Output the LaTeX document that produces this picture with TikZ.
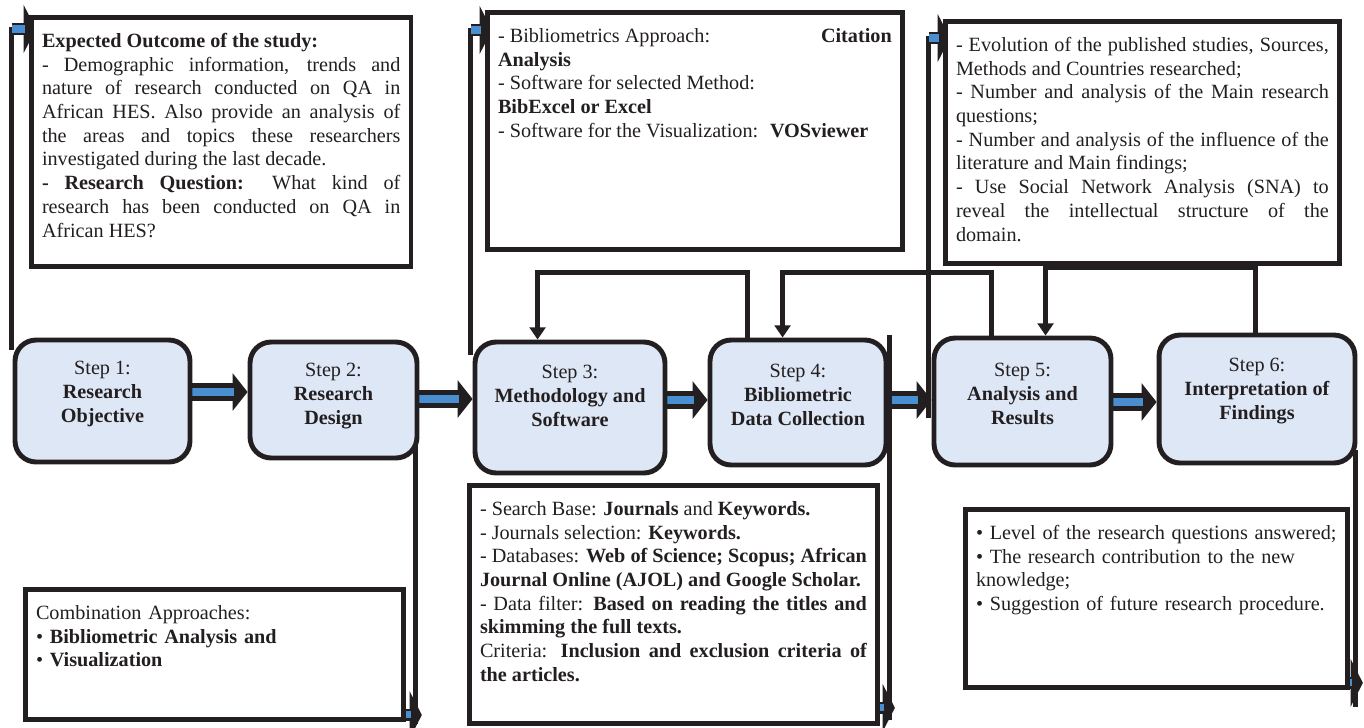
\documentclass[tikz,border=0pt]{standalone}
\usepackage{fontspec}
\setmainfont{Liberation Serif}
\usepackage{xcolor}
\usepackage{tikz}
\usetikzlibrary{arrows.meta,calc,backgrounds}
\definecolor{ink}{HTML}{231F20}
\definecolor{pipeblue}{HTML}{488ED1}
\definecolor{stepfill}{HTML}{DEE7F5}
\hyphenpenalty=10000
\exhyphenpenalty=10000
\tolerance=2000
\emergencystretch=1em
\tikzset{
  base_t/.style = {font=\fontsize{11.5}{13.5}\selectfont, text=ink},
  step_n/.style = {base_t, rectangle, rounded corners=12pt, draw=ink,
    line width=2.8pt, fill=stepfill},% step box
  step_t/.style = {base_t, align=center, inner sep=0pt},% step text
  note_b/.style = {base_t, rectangle, draw=ink, line width=2.8pt, fill=white,
    anchor=north west, inner xsep=6pt, inner ysep=9pt, text height=8pt,
    align=justify},% text box
  wire/.style = {draw=ink, line width=2.5pt},
  wire_a/.style = {wire, -{Triangle[length=7pt,width=9pt]}},
  pipe/.style = {draw=pipeblue, line width=4.5pt, shorten >=8pt,
    preaction={draw=ink, line width=10pt, shorten >=0pt,
      -{Triangle[length=8.5pt,width=21pt]}}},% blue arrow between steps
  pipe_s/.style = {draw=pipeblue, line width=4pt, shorten >=6pt,
    preaction={draw=ink, line width=7pt, shorten >=0pt,
      -{Triangle[length=7pt,width=27pt]}}}% blue end of side wires
}
\begin{document}
\begin{tikzpicture}[x=0.02cm, y=-0.02cm]
  \useasboundingbox (0,0) rectangle (1364,727);

  % steps
  \node[step_n, minimum width=3.5cm, minimum height=2.44cm,
    label={[step_t,yshift=4pt]center:Step 1:\\\textbf{Research}\\\textbf{Objective}}] (s1) at (102.5,401) {};
  \node[step_n, minimum width=3.34cm, minimum height=2.32cm,
    label={[step_t,yshift=2.3pt]center:Step 2:\\\textbf{Research}\\\textbf{Design}}] (s2) at (333.5,400) {};
  \node[step_n, minimum width=3.8cm, minimum height=2.62cm,
    label={[step_t,yshift=6.5pt]center:Step 3:\\\textbf{Methodology and}\\\textbf{Software}}] (s3) at (570,407.5) {};
  \node[step_n, minimum width=3.52cm, minimum height=2.5cm,
    label={[step_t,yshift=4.3pt]center:Step 4:\\\textbf{Bibliometric}\\\textbf{Data Collection}}] (s4) at (798,402.5) {};
  \node[step_n, minimum width=3.54cm, minimum height=2.54cm,
    label={[step_t,yshift=4.3pt]center:Step 5:\\\textbf{Analysis and}\\\textbf{Results}}] (s5) at (1022.5,401.5) {};
  \node[step_n, minimum width=3.92cm, minimum height=2.56cm,
    label={[step_t,yshift=4.5pt]center:Step 6:\\\textbf{Interpretation of}\\\textbf{Findings}}] (s6) at (1257,399) {};

  % notes
  \node[note_b, text width=204pt, text depth=115.7pt] (goal) at (29,15)
    {\textbf{Expected Outcome of the study:}\\
     - Demographic information, trends and\linebreak nature of research conducted on QA in\linebreak African HES. Also provide an analysis of\linebreak the areas and topics these researchers\linebreak investigated during the last decade.\\
     \textbf{- Research Question:} What kind of\linebreak research has been conducted on QA in\linebreak African HES?};
  \node[note_b, text width=224.1pt, text depth=108.9pt] (tools) at (485,10)
    {- Bibliometrics Approach: \hfill\textbf{Citation}\\
     \textbf{Analysis}\\
     - Software for selected Method:\\
     \textbf{BibExcel or Excel}\\
     - Software for the Visualization:~ \textbf{VOSviewer}};
  \node[note_b, text width=212.2pt, text depth=111.7pt] (results) at (943,19)
    {- Evolution of the published studies, Sources, Methods and Countries researched;\\
     - Number and analysis of the Main research questions;\\
     - Number and analysis of the influence of the literature and Main findings;\\
     - Use Social Network Analysis (SNA) to\linebreak reveal the intellectual structure of the\linebreak domain.};
  \node[note_b, align=left, text width=203.1pt, text depth=48pt] (combo) at (23,587)
    {Combination Approaches:\\
     \textbullet{} \textbf{Bibliometric Analysis and}\\
     \textbullet{} \textbf{Visualization}};
  \node[note_b, text width=220.2pt, text depth=109.4pt] (collect) at (467,483)
    {- Search Base: \textbf{Journals} and \textbf{Keywords.}\\
     - Journals selection: \textbf{Keywords.}\\
     - Databases: \textbf{Web of Science; Scopus; African Journal Online (AJOL) and Google Scholar.}\\
     - Data filter: \textbf{Based on reading the titles and skimming the full texts.}\\
     Criteria: \textbf{Inclusion and exclusion criteria of the articles.}};
  \node[note_b, align=left, text width=205.4pt, text depth=75.3pt] (findings) at (963,507)
    {\textbullet{} Level of the research questions answered;\\
     \textbullet{} The research contribution to the new\\
     knowledge;\\
     \textbullet{} Suggestion of future research procedure.};

  \begin{scope}[on background layer]
    % main flow
    \draw[pipe] (s1.east |- 0,392) -- (s2.west |- 0,392);
    \draw[pipe] (s2.east |- 0,399) -- (s3.west |- 0,399);
    \draw[pipe] (s3.east |- 0,400) -- (s4.west |- 0,400);
    \draw[pipe] (s4.east |- 0,400) -- (s5.west |- 0,400);
    \draw[pipe] (s5.east |- 0,402) -- (s6.west |- 0,402);

    % feedback
    \draw[wire_a] ($(s4.north west)+(40,0)$) -- ++(0,-65) -| ($(s3.north west)+(65,0)$);
    \draw[wire_a] ($(s5.north west)+(60,0)$) -- ++(0,-63) -| ($(s4.north west)+(75,0)$);
    \draw[wire_a] ($(s6.north west)+(99,0)$) -- ++(0,-65) -| ($(s5.north west)+(114,0)$);

    % step 1 -> goal
    \coordinate (a1) at ($(s1.north west)+(-1,12)$);
    \coordinate (g1) at ($(goal.north west)+(7,14)$);
    \draw[wire] (a1) |- (g1);
    \draw[pipe_s] (a1 |- g1) -- (g1);
    % step 2 -> combo
    \coordinate (a2) at ($(s2.south east)+(-4,-18)$);
    \draw[wire] (a2) -- ++(0,282);
    \draw[pipe_s] ($(combo.south east)+(-3,-7)$) -- ++(19,0);
    % step 3 -> tools
    \coordinate (a3) at ($(s3.north west)+(-2,15)$);
    \coordinate (g3) at ($(tools.north west)+(7,20)$);
    \draw[wire] (a3) |- (g3);
    \draw[pipe_s] (a3 |- g3) -- (g3);
    % step 4 -> collect
    \coordinate (a4) at ($(s4.north east)+(1,-3)$);
    \draw[wire] (a4) -- ++(0,385);
    \draw[pipe_s] ($(collect.south east)+(-3,-18)$) -- ++(18,0);
    % step 5 -> results
    \coordinate (a5) at ($(s5.north west)+(-3,82)$);
    \coordinate (g5) at ($(results.north west)+(7,19)$);
    \draw[wire] (a5) |- (g5);
    \draw[pipe_s] (a5 |- g5) -- (g5);
    % step 6 -> findings
    \coordinate (a6) at ($(s6.south east)+(-2,-15)$);
    \draw[wire] (a6) -- ++(0,257);
    \draw[pipe_s] ($(findings.south east)+(-3,-7)$) -- ++(16,0);
  \end{scope}
\end{tikzpicture}
\end{document}
